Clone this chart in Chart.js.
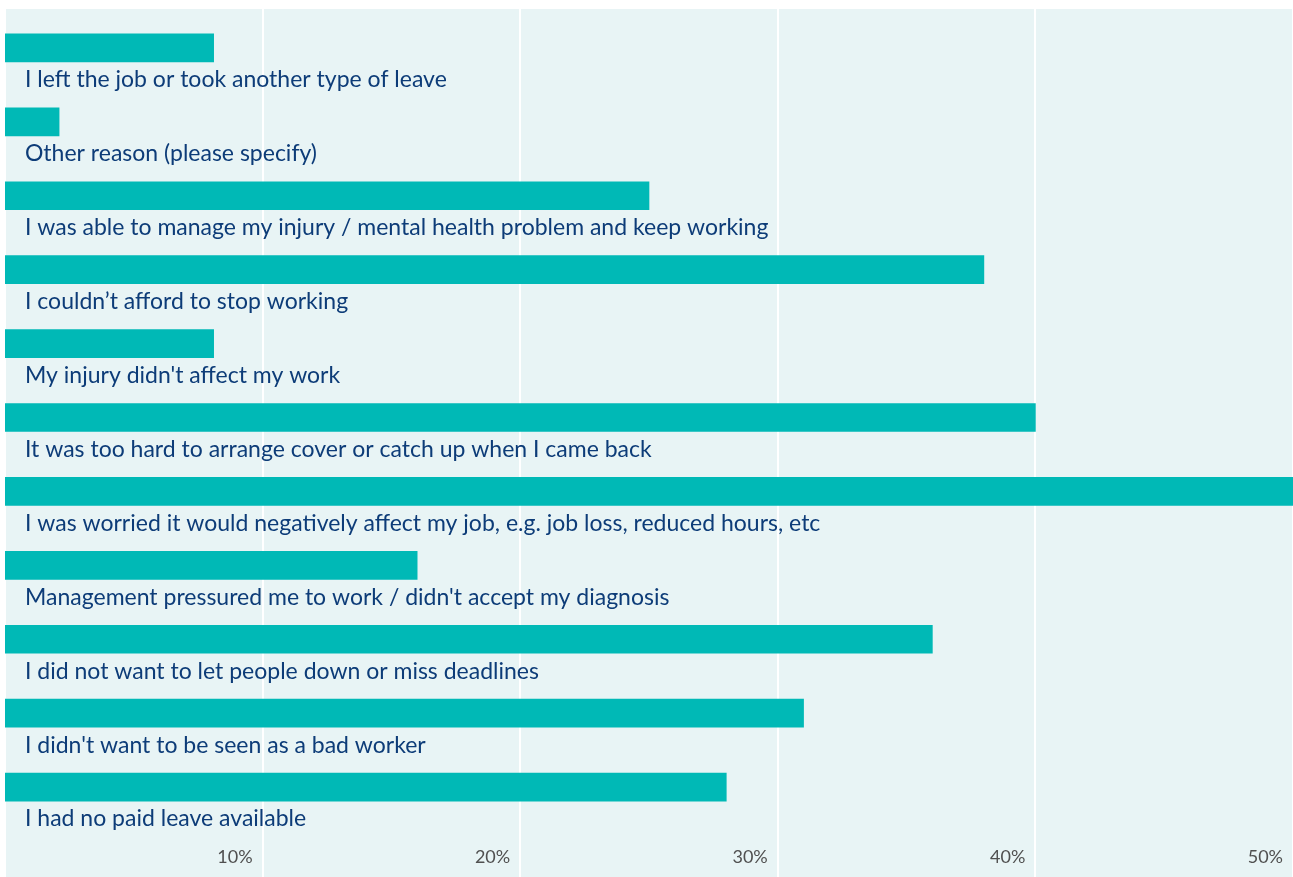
<!DOCTYPE html>
<html>
<head>
<meta charset="utf-8">
<script src="https://cdn.jsdelivr.net/npm/chart.js@4"></script>
<style>
  html, body { margin: 0; padding: 0; background: #ffffff; }
  #wrap { width: 1293px; height: 877px; }
</style>
</head>
<body>
<div id="wrap"><canvas id="reasonsChart"></canvas></div>
<script>
const reasons = [
  'I left the job or took another type of leave',
  'Other reason (please specify)',
  'I was able to manage my injury / mental health problem and keep working',
  'I couldn’t afford to stop working',
  "My injury didn't affect my work",
  'It was too hard to arrange cover or catch up when I came back',
  'I was worried it would negatively affect my job, e.g. job loss, reduced hours, etc',
  "Management pressured me to work / didn't accept my diagnosis",
  'I did not want to let people down or miss deadlines',
  "I didn't want to be seen as a bad worker",
  'I had no paid leave available',
];
const percentages = [8.1, 2.1, 25, 38, 8.1, 40, 50, 16, 36, 31, 28];
const tickValues = [10, 20, 30, 40, 50];

const BAR = '#00b9b6';
const PANEL = '#e8f4f5';
const LABEL = '#0d3c78';
const TICK = '#505050';
const FONT = 'Lato, sans-serif';

// teal panel + white grid lines that run the full height (through the tick area)
const panelBg = {
  id: 'panelBg',
  beforeDraw(chart) {
    const { ctx, scales: { x } } = chart;
    ctx.save();
    ctx.fillStyle = PANEL;
    ctx.fillRect(6, 9, chart.width - 6, chart.height - 9);
    ctx.strokeStyle = '#ffffff';
    ctx.lineWidth = 2;
    tickValues.forEach((v) => {
      const px = Math.round(x.getPixelForValue(v));
      ctx.beginPath();
      ctx.moveTo(px, 9);
      ctx.lineTo(px, chart.height);
      ctx.stroke();
    });
    ctx.restore();
  },
};

// category text sits under each bar instead of on a y axis
const barCaptions = {
  id: 'barCaptions',
  afterDatasetsDraw(chart) {
    const { ctx, scales: { y } } = chart;
    ctx.save();
    ctx.font = '23px ' + FONT;
    ctx.fillStyle = LABEL;
    ctx.textAlign = 'left';
    ctx.textBaseline = 'middle';
    reasons.forEach((r, i) => {
      ctx.fillText(r, 25, y.getPixelForValue(i) + 32);
    });
    ctx.restore();
  },
};

new Chart(document.getElementById('reasonsChart'), {
  type: 'bar',
  data: {
    labels: reasons,
    datasets: [
      {
        data: percentages,
        backgroundColor: BAR,
        borderWidth: 0,
        barThickness: 28,
      },
    ],
  },
  options: {
    indexAxis: 'y',
    responsive: true,
    maintainAspectRatio: false,
    animation: false,
    layout: { padding: { left: 5, right: 0, top: 11, bottom: 0 } },
    scales: {
      y: { display: false },
      x: {
        min: 0,
        max: 50,
        grid: { display: false },
        border: { display: false },
        afterFit: (axis) => {
          axis.height = 53;
          axis.paddingLeft = 0;
          axis.paddingRight = 0;
        },
        afterBuildTicks: (axis) => {
          axis.ticks = tickValues.map((v) => ({ value: v }));
        },
        ticks: {
          align: 'end',
          labelOffset: -10,
          padding: 14,
          color: TICK,
          font: { family: FONT, size: 18 },
          callback: (v) => v + '%',
        },
      },
    },
    plugins: {
      legend: { display: false },
      tooltip: { enabled: false },
    },
  },
  plugins: [panelBg, barCaptions],
});
</script>
</body>
</html>
